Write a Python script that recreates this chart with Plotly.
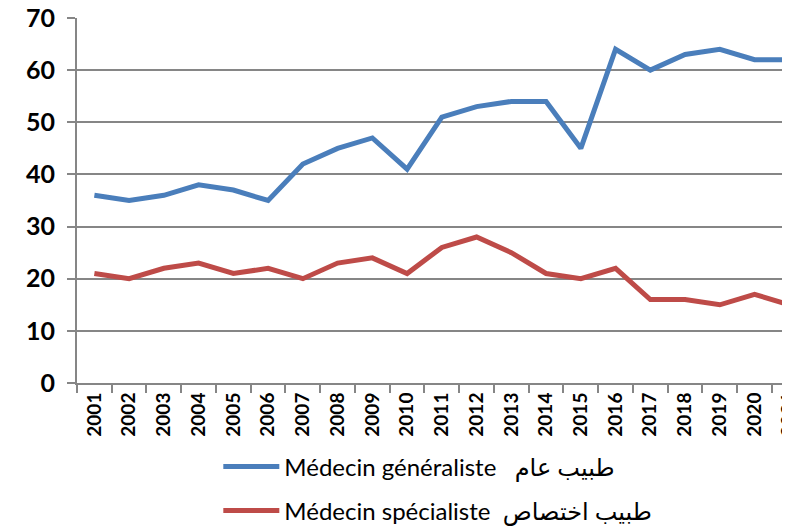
import plotly.graph_objects as go

years = [str(y) for y in range(2001, 2022)]
generaliste = [36, 35, 36, 38, 37, 35, 42, 45, 47, 41, 51, 53, 54, 54, 45, 64, 60, 63, 64, 62, 62]
specialiste = [21, 20, 22, 23, 21, 22, 20, 23, 24, 21, 26, 28, 25, 21, 20, 22, 16, 16, 15, 17, 15]
y_ticks = [0, 10, 20, 30, 40, 50, 60, 70]

fig = go.Figure()
fig.add_trace(go.Scatter(x=years, y=generaliste, mode="lines", legendgroup="g",
                         name="Médecin généraliste   طبيب عام",
                         line=dict(color="#4a7ebb", width=5)))
fig.add_trace(go.Scatter(x=years, y=specialiste, mode="lines", legendgroup="s",
                         name="Médecin spécialiste  طبيب اختصاص",
                         line=dict(color="#be4b48", width=5)))

# the page body has an 8px margin, so margins are shifted to compensate
fig.update_layout(
    width=790, height=529,
    margin=dict(l=69, r=0, t=10, b=154, autoexpand=False),
    plot_bgcolor="white", paper_bgcolor="white",
    font=dict(family="Lato, DejaVu Sans, sans-serif", color="black"),
    legend=dict(orientation="v", x=0.196, xanchor="left", y=-0.168, yanchor="top",
                font=dict(size=24, family="Lato, DejaVu Sans, sans-serif"),
                tracegroupgap=10, itemwidth=56),
    showlegend=True,
)
fig.update_xaxes(type="category", range=[-0.5, 20.25], tickson="boundaries",
                 ticks="outside", ticklen=8, tickcolor="#868686", tickwidth=2,
                 tickangle=-90, showline=True, linecolor="#868686", linewidth=2,
                 showgrid=False, automargin=False, ticklabeloverflow="allow",
                 tickfont=dict(size=19, family="Lato, DejaVu Sans", weight="bold"))
fig.update_yaxes(range=[0, 70], tickvals=y_ticks, showgrid=True, gridcolor="#868686",
                 gridwidth=2, showline=True, linecolor="#868686", linewidth=2,
                 ticks="outside", ticklen=8, tickcolor="#868686", tickwidth=2,
                 zeroline=False, automargin=False, ticklabelstandoff=7,
                 ticklabeloverflow="allow",
                 tickfont=dict(size=25, family="Lato, DejaVu Sans", weight="bold"))

fig.write_html("out.html")
